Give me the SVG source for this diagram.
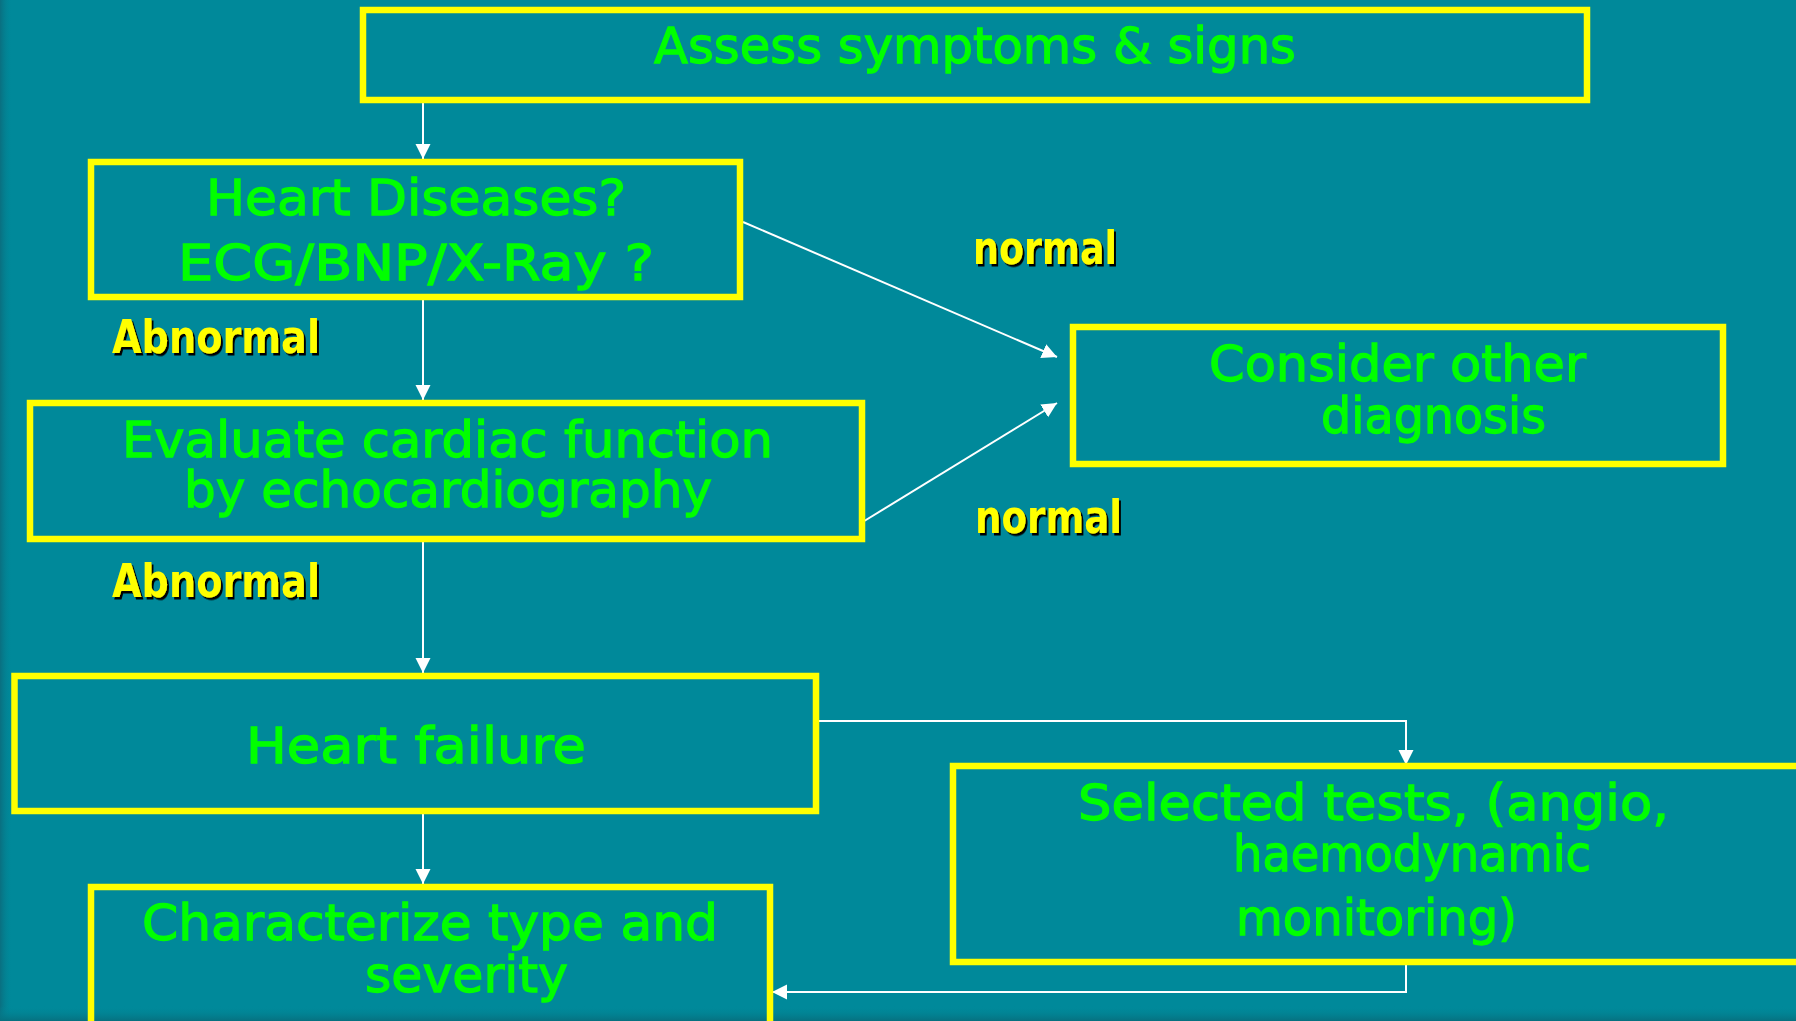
<svg xmlns="http://www.w3.org/2000/svg" width="1796" height="1021" viewBox="0 0 1796 1021">
<defs>
<style>
.box{fill:none;stroke:#ffff00;stroke-width:6.5}
.t{font-family:"DejaVu Sans","Liberation Sans",sans-serif;font-size:50px;fill:#00ff00;stroke:#00ff00;stroke-width:1.3}
.lbl{font-family:"DejaVu Sans","Liberation Sans",sans-serif;font-size:46px;font-weight:bold;fill:#ffff00;filter:url(#sh)}
.c{fill:none;stroke:#ffffff;stroke-width:2}
</style>
<marker id="ah" markerUnits="userSpaceOnUse" markerWidth="16" markerHeight="16" viewBox="0 0 16 16" refX="15" refY="8" orient="auto">
<path d="M0,0.5 L15,8 L0,15.5 Z" fill="#ffffff"/>
</marker>
<filter id="sh" x="-10%" y="-20%" width="130%" height="150%">
<feDropShadow dx="2" dy="2.5" stdDeviation="0.4" flood-color="#000000" flood-opacity="1"/>
</filter>
<linearGradient id="lg" x1="0" y1="0" x2="1" y2="0">
<stop offset="0" stop-color="#0a6f80"/>
<stop offset="1" stop-color="#00899a" stop-opacity="0"/>
</linearGradient>
<linearGradient id="bg" x1="0" y1="0" x2="0" y2="1">
<stop offset="0" stop-color="#00899a" stop-opacity="0"/>
<stop offset="1" stop-color="#06707f"/>
</linearGradient>
</defs>
<rect x="0" y="0" width="1796" height="1021" fill="#00899a"/>
<rect x="0" y="0" width="12" height="1021" fill="url(#lg)"/>
<rect x="0" y="1006" width="1796" height="15" fill="url(#bg)"/>

<g id="connectors">
<line class="c" x1="423" y1="103" x2="423" y2="159" marker-end="url(#ah)"/>
<line class="c" x1="423" y1="300" x2="423" y2="400" marker-end="url(#ah)"/>
<line class="c" x1="423" y1="542" x2="423" y2="673" marker-end="url(#ah)"/>
<line class="c" x1="423" y1="814" x2="423" y2="884" marker-end="url(#ah)"/>
<line class="c" x1="743" y1="222" x2="1057" y2="357" marker-end="url(#ah)"/>
<line class="c" x1="861" y1="523" x2="1057" y2="403" marker-end="url(#ah)"/>
<polyline class="c" points="819,721 1406,721 1406,765" marker-end="url(#ah)"/>
<polyline class="c" points="1406,965 1406,992 772,992" marker-end="url(#ah)"/>
</g>

<g id="assess">
<rect class="box" x="363" y="10" width="1224" height="90"/>
<text class="t" x="654" y="63" textLength="642" lengthAdjust="spacingAndGlyphs">Assess symptoms &amp; signs</text>
</g>
<g id="heart-diseases">
<rect class="box" x="91" y="162" width="649" height="135"/>
<text class="t" x="206" y="215" textLength="420" lengthAdjust="spacingAndGlyphs">Heart Diseases?</text>
<text class="t" x="178" y="280" textLength="476" lengthAdjust="spacingAndGlyphs">ECG/BNP/X-Ray ?</text>
</g>
<g id="evaluate">
<rect class="box" x="30" y="403" width="832" height="136"/>
<text class="t" x="122" y="457" textLength="651" lengthAdjust="spacingAndGlyphs">Evaluate cardiac function</text>
<text class="t" x="184" y="507" textLength="528" lengthAdjust="spacingAndGlyphs">by echocardiography</text>
</g>
<g id="consider">
<rect class="box" x="1073" y="327" width="650" height="137"/>
<text class="t" x="1209" y="381" textLength="377" lengthAdjust="spacingAndGlyphs">Consider other</text>
<text class="t" x="1321" y="433" textLength="225" lengthAdjust="spacingAndGlyphs">diagnosis</text>
</g>
<g id="heart-failure">
<rect class="box" x="14.5" y="676" width="801.5" height="135"/>
<text class="t" x="246" y="763" textLength="340" lengthAdjust="spacingAndGlyphs">Heart failure</text>
</g>
<g id="selected-tests">
<rect class="box" x="953" y="766" width="900" height="196"/>
<text class="t" x="1078" y="820" textLength="591" lengthAdjust="spacingAndGlyphs">Selected tests, (angio,</text>
<text class="t" x="1233" y="871" textLength="358" lengthAdjust="spacingAndGlyphs">haemodynamic</text>
<text class="t" x="1236" y="935" textLength="281" lengthAdjust="spacingAndGlyphs">monitoring)</text>
</g>
<g id="characterize">
<rect class="box" x="91" y="887" width="679" height="200"/>
<text class="t" x="142" y="940" textLength="576" lengthAdjust="spacingAndGlyphs">Characterize type and</text>
<text class="t" x="365" y="992" textLength="203" lengthAdjust="spacingAndGlyphs">severity</text>
</g>

<g id="labels">
<text class="lbl" x="973" y="264" textLength="144" lengthAdjust="spacingAndGlyphs">normal</text>
<text class="lbl" x="975" y="533" textLength="147" lengthAdjust="spacingAndGlyphs">normal</text>
<text class="lbl" x="112" y="353" textLength="208" lengthAdjust="spacingAndGlyphs">Abnormal</text>
<text class="lbl" x="112" y="597" textLength="208" lengthAdjust="spacingAndGlyphs">Abnormal</text>
</g>
</svg>
